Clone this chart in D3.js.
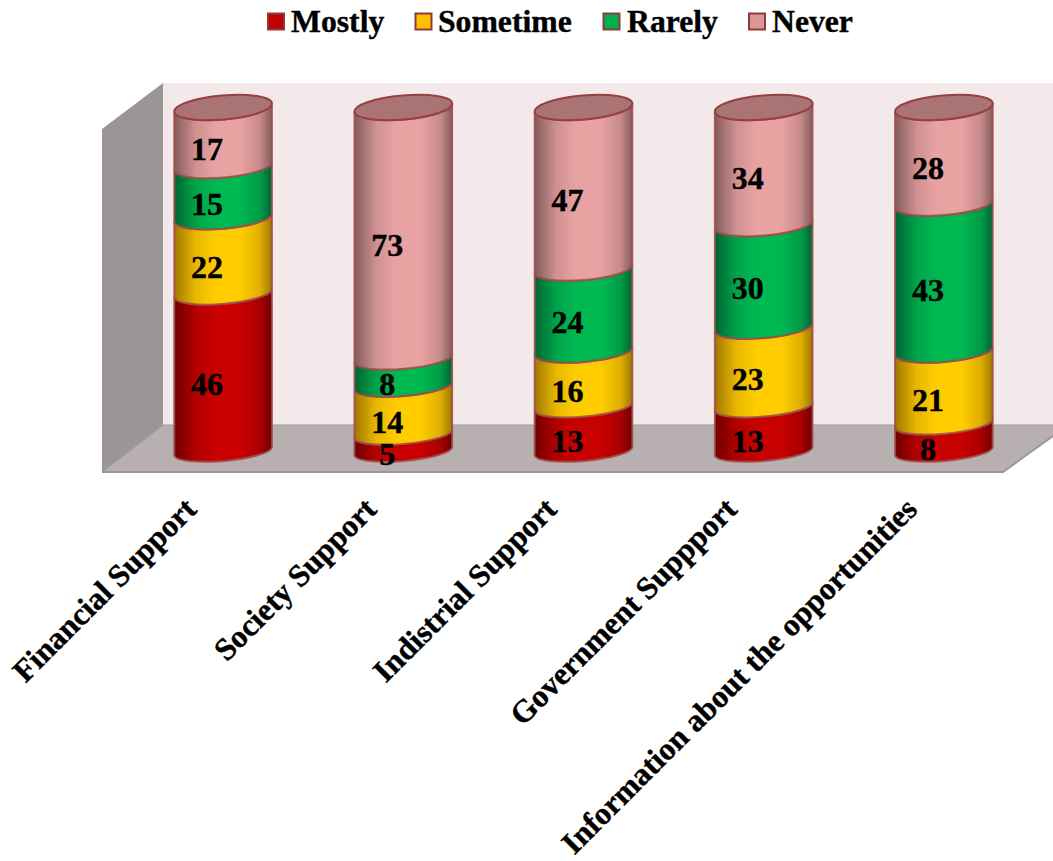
<!DOCTYPE html>
<html>
<head>
<meta charset="utf-8">
<script src="https://cdn.jsdelivr.net/npm/d3@7"></script>
<style>
  html, body { margin: 0; padding: 0; background: #fff; }
  svg { display: block; }
  text { font-family: "Liberation Serif", serif; font-weight: bold; fill: #000; }
</style>
</head>
<body>
<svg id="chart" width="1053" height="861"></svg>
<script>
const categories = ["Financial Support", "Society Support", "Indistrial Support", "Government Suppport", "Information about the opportunities"];
const seriesNames = ["Mostly", "Sometime", "Rarely", "Never"];
const mostly = [46, 5, 13, 13, 8];
const sometime = [22, 14, 16, 23, 21];
const rarely = [15, 8, 24, 30, 43];
const never = [17, 73, 47, 34, 28];
const seriesValues = [mostly, sometime, rarely, never];
const fills = ["#c80000", "#ffcc00", "#00b850", "#e8a2a2"];
const edges = ["#6f0000", "#a07800", "#006533", "#855c5c"];
const legendFills = ["#c00000", "#ffc000", "#00b050", "#d99694"];

const svg = d3.select("#chart");
const defs = svg.append("defs");

const x = d3.scaleBand().domain(categories).range([133, 1034]);
const y = d3.scaleLinear().domain([0, 100]).range([451, 107.5]);
const barRadius = 49;
const tilt = -5;
const tiltRad = tilt * Math.PI / 180;
// The ellipses open up slightly towards the top of the plot.
const ellipseRy = d3.scaleLinear().domain([0, 100]).range([10, 12]);

// Side wall, back wall and floor of the plot box.
const box = {left: 102, back: 163, right: 1053, front: 1003, top: 83, sideTop: 129, floorBack: 425, floorFront: 472};
svg.append("rect").attr("x", box.back).attr("y", box.top)
  .attr("width", box.right - box.back).attr("height", box.floorBack - box.top).attr("fill", "#f4e9ea");
svg.append("path")
  .attr("d", `M${box.left},${box.sideTop}L${box.back},${box.top}V${box.floorBack}L${box.left},${box.floorFront}Z`)
  .attr("fill", "#9b9595");
svg.append("path")
  .attr("d", `M${box.left},${box.floorFront}L${box.back},${box.floorBack}H${box.right}V436L${box.front},${box.floorFront}Z`)
  .attr("fill", "#b8afb0");
svg.append("path")
  .attr("d", `M${box.left},${box.floorFront}H${box.front}L${box.right},436`)
  .attr("fill", "none").attr("stroke", "#989898").attr("stroke-width", 2);
svg.append("path")
  .attr("d", `M${box.left},${box.floorFront}L${box.back},${box.floorBack}H${box.right}`)
  .attr("fill", "none").attr("stroke", "#a09a9a").attr("stroke-width", 1.2);

// Horizontal shading that gives each band its round look.
seriesNames.forEach((name, i) => {
  const g = defs.append("linearGradient").attr("id", "shade" + i)
    .attr("x1", 0).attr("x2", 1).attr("y1", 0).attr("y2", 0);
  g.append("stop").attr("offset", 0).attr("stop-color", edges[i]);
  g.append("stop").attr("offset", 0.22).attr("stop-color", d3.interpolateRgb(edges[i], fills[i])(0.75));
  g.append("stop").attr("offset", 0.42).attr("stop-color", fills[i]);
  g.append("stop").attr("offset", 0.68).attr("stop-color", fills[i]);
  g.append("stop").attr("offset", 0.88).attr("stop-color", d3.interpolateRgb(edges[i], fills[i])(0.65));
  g.append("stop").attr("offset", 1).attr("stop-color", edges[i]);
});

function tips(cx, v) {
  const cy = y(v);
  const dx = barRadius * Math.cos(tiltRad), dy = barRadius * Math.sin(tiltRad);
  return {lx: cx - dx, ly: cy - dy, rx: cx + dx, ry: cy + dy, radiusY: ellipseRy(v)};
}

function bandPath(cx, v0, v1) {
  const lo = tips(cx, v0), hi = tips(cx, v1);
  return `M${hi.lx},${hi.ly}` +
    `A${barRadius},${hi.radiusY} ${tilt} 0 0 ${hi.rx},${hi.ry}` +
    `L${lo.rx},${lo.ry}` +
    `A${barRadius},${lo.radiusY} ${tilt} 0 1 ${lo.lx},${lo.ly}Z`;
}

const plot = svg.append("g");
categories.forEach((cat, c) => {
  const cx = x(cat) + x.bandwidth() / 2;
  const g = plot.append("g");
  let base = 0;
  seriesValues.forEach((values, s) => {
    const v = values[c];
    g.append("path").attr("d", bandPath(cx, base, base + v))
      .attr("fill", `url(#shade${s})`)
      .attr("stroke", "#a04a4a").attr("stroke-width", 2).attr("stroke-opacity", 0.85);
    base += v;
  });
  g.append("ellipse")
    .attr("cx", cx).attr("cy", y(base)).attr("rx", barRadius).attr("ry", ellipseRy(base))
    .attr("transform", `rotate(${tilt} ${cx} ${y(base)})`)
    .attr("fill", "#a97473").attr("stroke", "#983f42").attr("stroke-width", 2);
});

// Value labels sit left of the bar axis, a little under the band's middle.
categories.forEach((cat, c) => {
  const cx = x(cat) + x.bandwidth() / 2;
  let base = 0;
  seriesValues.forEach(values => {
    const v = values[c];
    svg.append("text")
      .attr("x", cx - 16).attr("y", y(base + v / 2) + 12.5)
      .attr("text-anchor", "middle").attr("font-size", 32).attr("dy", "0.33em")
      .attr("stroke", "#000").attr("stroke-width", 0.4)
      .text(v);
    base += v;
  });
});

// Slanted category labels.
const axis = d3.axisBottom(x).tickSize(0).tickPadding(0);
const axisG = svg.append("g").attr("transform", "translate(0,472)").call(axis);
axisG.select(".domain").remove();
axisG.selectAll("text")
  .attr("font-size", 31.5)
  .attr("font-family", "Liberation Serif")
  .attr("font-weight", "bold")
  .attr("fill", "#000")
  .attr("stroke", "#000").attr("stroke-width", 0.4)
  .attr("text-anchor", "end")
  .attr("x", 0).attr("y", 0).attr("dy", 0)
  .attr("transform", "translate(-25,39) rotate(-45)");

// Legend row.
const legendSwatch = [268, 415.5, 603.5, 749];
const legendText = [291, 438, 627, 772];
seriesNames.forEach((name, i) => {
  svg.append("rect")
    .attr("x", legendSwatch[i]).attr("y", 13.5).attr("width", 16).attr("height", 16)
    .attr("fill", legendFills[i]).attr("stroke", "#8f3a3a").attr("stroke-width", 2);
  svg.append("text").attr("x", legendText[i]).attr("y", 32)
    .attr("font-size", 31.7).attr("stroke", "#000").attr("stroke-width", 0.4).text(name);
});
</script>
</body>
</html>
